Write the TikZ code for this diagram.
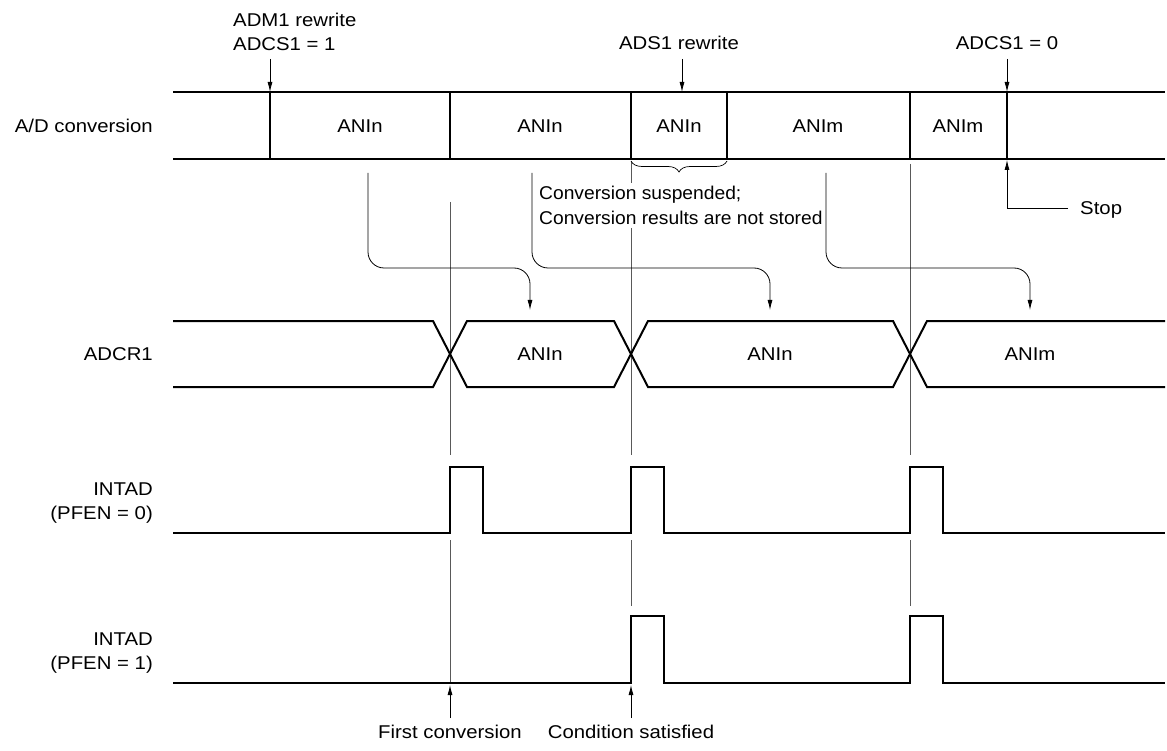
\documentclass[tikz,border=0pt]{standalone}
\usepackage{fontspec}
\setmainfont{Liberation Sans}[FakeStretch=1.1]
\newfontfamily\narrowsans{Liberation Sans}[FakeStretch=1.04]
\usepackage{tikz}
\usetikzlibrary{arrows.meta,positioning,calc,decorations.pathreplacing}

\begin{document}
\begin{tikzpicture}[
    x=1pt, y=-1pt,
    font=\fontsize{18.5}{24}\selectfont,
    sig/.style={draw=black, line width=2pt, line join=miter},
    guide/.style={draw=black!65, line width=0.8pt},
    arrow/.style={draw=black, line width=0.8pt, -{Latex[length=10pt,width=5pt]}},
    passarrow/.style={arrow, rounded corners=16pt},
    rowlabel/.style={anchor=east, align=right, inner sep=0pt},
    cell/.style={inner sep=0pt}
]
    \useasboundingbox (0,0) rectangle (1167,751);

    % Row labels
    \node (lblconv) at (153,126) [rowlabel] {A/D conversion};
    \node (lbladcr) at (153,354) [rowlabel] {ADCR1};
    \node (lblint0) at (153,503) [rowlabel] {INTAD\\(PFEN = 0)};
    \node (lblint1) at (153,653) [rowlabel] {INTAD\\(PFEN = 1)};

    % Event guide lines (behind everything)
    \draw [guide] (450,202) -- (450,455);
    \draw [guide] (450,540) -- (450,683);
    \draw [guide] (631,161) -- (631,455);
    \draw [guide] (631,540) -- (631,606);
    \draw [guide] (910,164) -- (910,455);
    \draw [guide] (910,540) -- (910,606);

    % Row 1: A/D conversion
    \draw [sig] (173,92) -- (1165,92);
    \draw [sig] (173,159) -- (1165,159);
    \foreach \x in {270,450,631,727,910,1007}
        \draw [sig] (\x,92) -- (\x,159);
    \node (c1) at (360,126) [cell] {ANIn};
    \node (c2) at (540,126) [cell] {ANIn};
    \node (c3) at (679,126) [cell] {ANIn};
    \node (c4) at (818,126) [cell] {ANIm};
    \node (c5) at (958,126) [cell] {ANIm};

    % Top events
    \node (admtxt) at (233,32) [anchor=west, align=left, inner sep=0pt] {ADM1 rewrite\\ADCS1 = 1};
    \node (adstxt) at (679,43) [cell] {ADS1 rewrite};
    \node (stoptop) at (1007,43) [cell] {ADCS1 = 0};
    \coordinate (e1s) at (270,59);  \coordinate (e1) at (270,92);
    \coordinate (e2s) at (682,59);  \coordinate (e2) at (682,92);
    \coordinate (e3s) at (1007,59); \coordinate (e3) at (1007,92);
    \draw [arrow] (e1s) -- (e1);
    \draw [arrow] (e2s) -- (e2);
    \draw [arrow] (e3s) -- (e3);

    % Suspended conversion
    \draw [draw=black, line width=0.7pt, decorate, decoration={brace, amplitude=11pt, mirror}] (631,161) -- (727,161);
    \node (susptxt) at (538,205.5) [anchor=west, align=left, fill=white, inner xsep=1pt, inner ysep=3pt, font=\narrowsans\fontsize{18.5}{25}\selectfont]
        {Conversion suspended;\\Conversion results are not stored};

    % Stop
    \node (stoptxt) at (1080,210) [anchor=west, inner sep=0pt] {Stop};
    \coordinate (stopend) at (1007,160);
    \draw [arrow] (1068,208) -| (stopend);

    % Results passed to ADCR1
    \draw [passarrow] (368,173) -- (368,268) -- (530,268) -- (530,310);
    \draw [passarrow] (532,173) -- (532,268) -- (770,268) -- (770,310);
    \draw [passarrow] (826,173) -- (826,268) -- (1030,268) -- (1030,310);

    % Row 2: ADCR1
    \draw [sig] (173,321) -- (433,321) -- (467,387) -- (614,387) -- (648,321) -- (893,321) -- (927,387) -- (1165,387);
    \draw [sig] (173,387) -- (433,387) -- (467,321) -- (614,321) -- (648,387) -- (893,387) -- (927,321) -- (1165,321);
    \node (r1) at (540,354) [cell] {ANIn};
    \node (r2) at (770,354) [cell] {ANIn};
    \node (r3) at (1030,354) [cell] {ANIm};

    % Row 3: INTAD (PFEN = 0)
    \draw [sig] (173,533) -- (450,533) -- (450,467) -- (483,467) -- (483,533) -- (631,533) -- (631,467) -- (664,467) -- (664,533)
        -- (910,533) -- (910,467) -- (943,467) -- (943,533) -- (1165,533);

    % Row 4: INTAD (PFEN = 1)
    \draw [sig] (173,683) -- (631,683) -- (631,616) -- (664,616) -- (664,683) -- (910,683) -- (910,616) -- (943,616) -- (943,683) -- (1165,683);

    % Bottom notes
    \node (firstconv) at (450,732) [cell] {First conversion};
    \node (condsat) at (631,732) [cell] {Condition satisfied};
    \coordinate (fcs) at (450,718); \coordinate (fce) at (450,685);
    \coordinate (css) at (631,718); \coordinate (cse) at (631,685);
    \draw [arrow] (fcs) -- (fce);
    \draw [arrow] (css) -- (cse);
\end{tikzpicture}
\end{document}
